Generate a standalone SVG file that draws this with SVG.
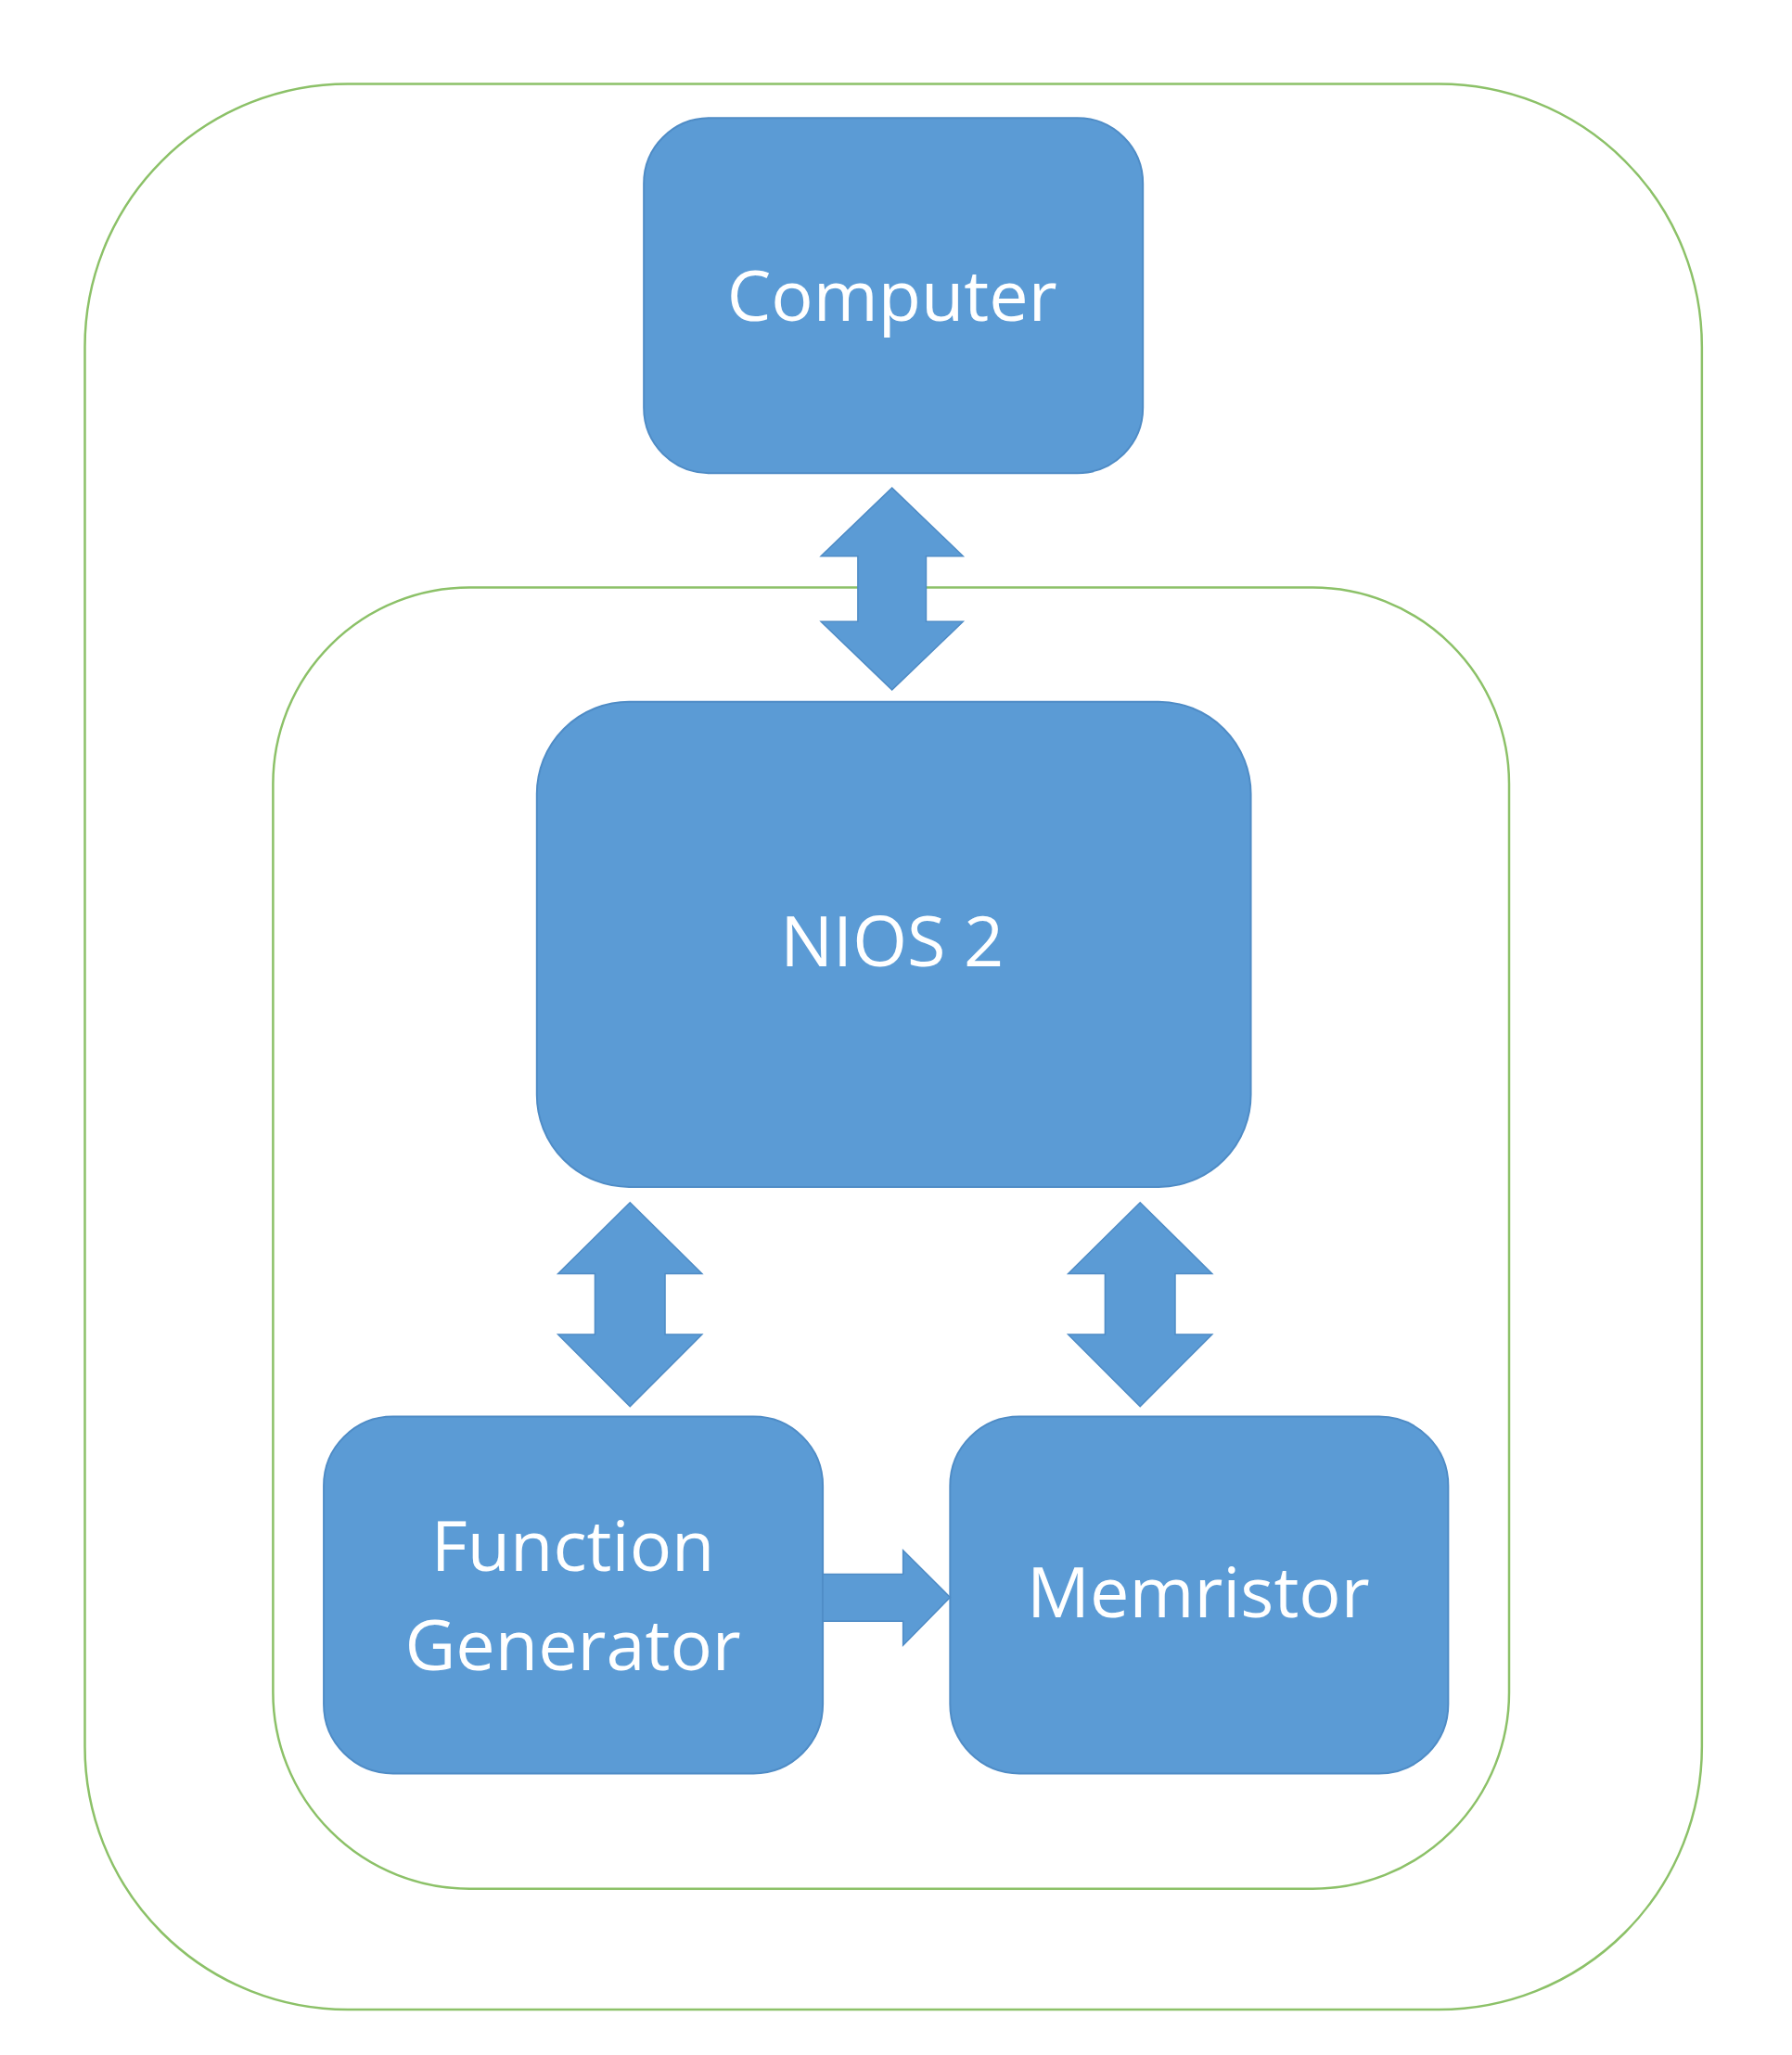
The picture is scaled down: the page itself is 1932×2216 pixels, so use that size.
<svg xmlns="http://www.w3.org/2000/svg" width="1932" height="2216" viewBox="0 0 1932 2216">
<style>
.box{fill:#5b9bd5;stroke:#4f8cc6;stroke-width:2}
.grp{fill:none;stroke:#8cc168;stroke-width:2.5}
.arr{fill:#5b9bd5;stroke:#4f8cc6;stroke-width:1.5}
text{font-family:"Open Sans","Noto Sans",sans-serif;font-size:76px;fill:#fff;text-anchor:middle}
</style>
<rect width="1932" height="2216" fill="#fff"/>
<g transform="scale(0.9945)">
<g id="outer"><rect class="grp" x="92" y="91" width="1753" height="2088" rx="285"/></g>
<g id="inner"><rect class="grp" x="296" y="637" width="1340" height="1411" rx="213"/></g>
<g id="computer"><rect class="box" x="698" y="128" width="541" height="385" rx="71"/><text x="967" y="348">Computer</text></g>
<g id="nios"><rect class="box" x="582" y="761" width="774" height="526" rx="100"/><text x="967" y="1048">NIOS 2</text></g>
<g id="fg"><rect class="box" x="351" y="1536" width="541" height="387" rx="75"/><text x="621" y="1703">Function</text><text x="621" y="1811">Generator</text></g>
<g id="memristor"><rect class="box" x="1030" y="1536" width="540" height="387" rx="75"/><text x="1299" y="1754">Memristor</text></g>
<g id="connectors">
<polygon class="arr" points="967,529 1044,603 1004,603 1004,674 1044,674 967,748 890,674 930,674 930,603 890,603"/>
<polygon class="arr" points="683,1304 761,1381 721,1381 721,1447 761,1447 683,1525 605,1447 645,1447 645,1381 605,1381"/>
<polygon class="arr" points="1236,1304 1314,1381 1274,1381 1274,1447 1314,1447 1236,1525 1158,1447 1198,1447 1198,1381 1158,1381"/>
<polygon class="arr" points="892,1707 979,1707 979,1681 1030,1732 979,1784 979,1758 892,1758"/>
</g>
</g>
</svg>
